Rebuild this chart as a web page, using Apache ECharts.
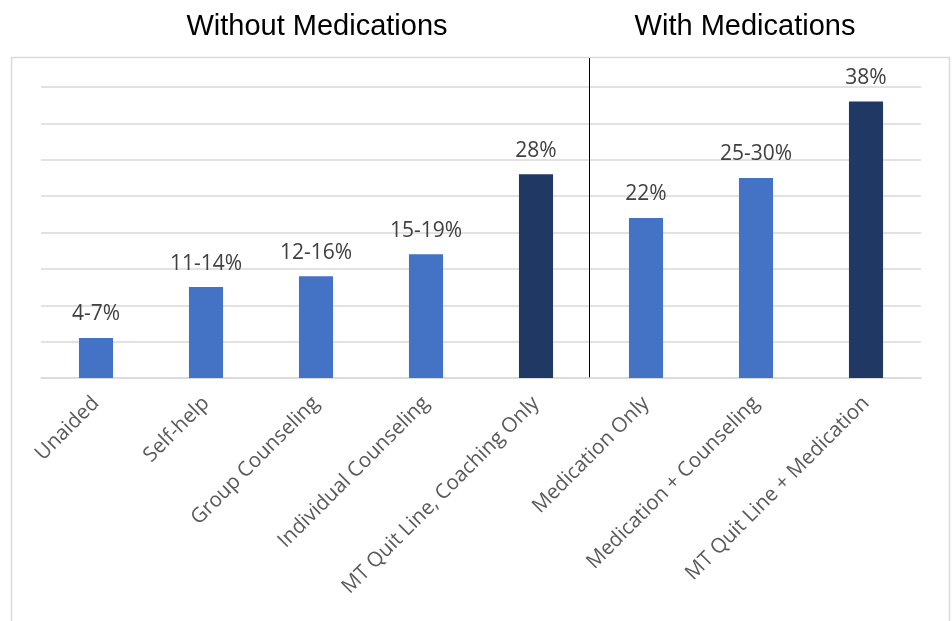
<!DOCTYPE html>
<html>
<head>
<meta charset="utf-8">
<script src="https://cdn.jsdelivr.net/npm/echarts@6/dist/echarts.min.js"></script>
<style>
  html, body { margin: 0; padding: 0; background: #fff; }
  #chart { width: 952px; height: 621px; }
</style>
</head>
<body>
<div id="chart"></div>
<script>
// quit rates by treatment type
const categories = [
  "Unaided",
  "Self-help",
  "Group Counseling",
  "Individual Counseling",
  "MT Quit Line, Coaching Only",
  "Medication Only",
  "Medication + Counseling",
  "MT Quit Line + Medication",
];
const values = [5.5, 12.5, 14, 17, 28, 22, 27.5, 38];
const valueLabels = ["4-7%", "11-14%", "12-16%", "15-19%", "28%", "22%", "25-30%", "38%"];
const groupTitles = ["Without Medications", "With Medications"];

const blue = "#4472C4";
const navy = "#203864";
const font = "'Open Sans', sans-serif";
const titleStyle = { fontFamily: "'Liberation Sans', Arial", fontSize: 29, fontWeight: "normal", color: "#000" };

const chart = echarts.init(document.getElementById("chart"));
const option = {
  animation: false,
  title: [
    { text: groupTitles[0], left: 312, top: 7, textAlign: "center", textStyle: titleStyle },
    { text: groupTitles[1], left: 740, top: 7, textAlign: "center", textStyle: titleStyle },
  ],
  grid: { left: 41, right: 31, top: 87, bottom: 243 },
  xAxis: {
    type: "category",
    data: categories,
    axisLine: { lineStyle: { color: "#D9D9D9", width: 1.5 } },
    axisTick: { show: false },
    axisLabel: {
      rotate: 45,
      interval: 0,
      margin: 22,
      color: "#595959",
      fontFamily: font,
      fontSize: 20.5,
    },
  },
  yAxis: {
    type: "value",
    min: 0,
    max: 40,
    interval: 5,
    axisLabel: { show: false },
    axisLine: { show: false },
    axisTick: { show: false },
    splitLine: { lineStyle: { color: "#D9D9D9", width: 1.5 } },
  },
  series: [
    {
      type: "bar",
      data: values.map((v, i) => ({
        value: v,
        itemStyle: { color: categories[i].startsWith("MT Quit Line") ? navy : blue },
      })),
      barWidth: "31%",
      label: {
        show: true,
        position: "top",
        distance: 13,
        color: "#404040",
        fontFamily: font,
        fontSize: 21,
        formatter: (p) => valueLabels[p.dataIndex],
      },
    },
  ],
};
chart.setOption(option);

// outer frame and divider between the two groups
const xA = chart.convertToPixel({ xAxisIndex: 0 }, categories[4]);
const xB = chart.convertToPixel({ xAxisIndex: 0 }, categories[5]);
const yBase = chart.convertToPixel({ yAxisIndex: 0 }, 0);
const xDiv = Math.round((xA + xB) / 2) - 1.5;
chart.setOption({
  graphic: [
    {
      type: "rect",
      shape: { x: 11.5, y: 57.5, width: 938, height: 600 },
      style: { fill: null, stroke: "#D9D9D9", lineWidth: 1.5 },
      silent: true,
    },
    {
      type: "line",
      shape: { x1: xDiv, y1: 58, x2: xDiv, y2: yBase },
      style: { stroke: "#000", lineWidth: 1 },
      silent: true,
    },
  ],
});
</script>
</body>
</html>
